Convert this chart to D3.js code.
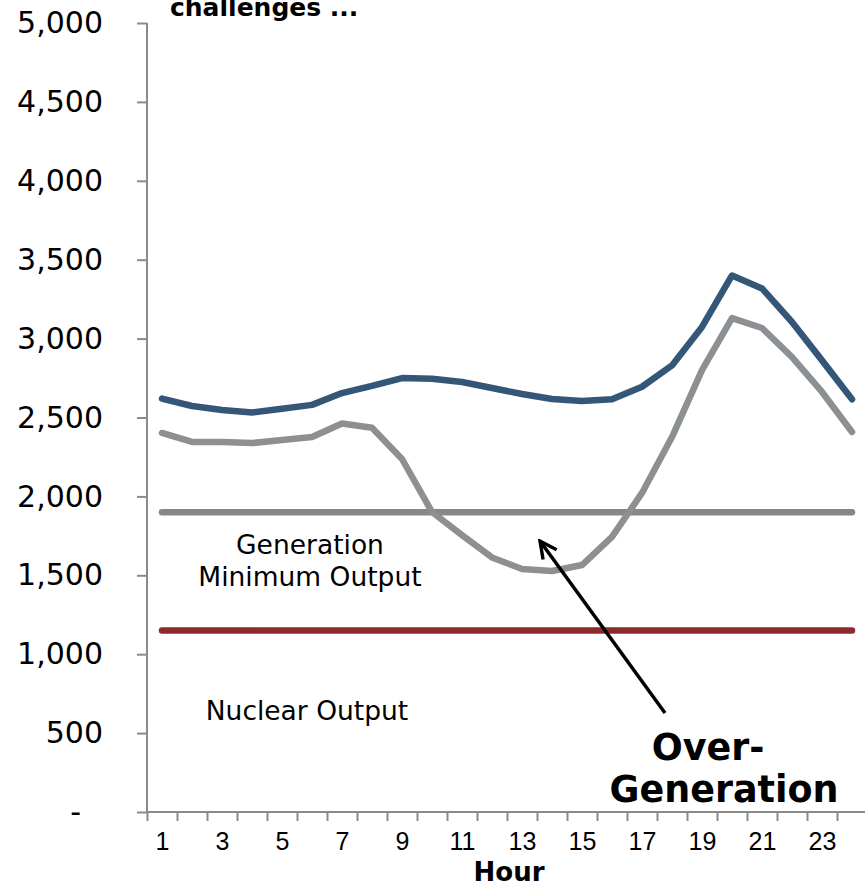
<!DOCTYPE html>
<html lang="en">
<head>
<meta charset="utf-8">
<title>Over-generation</title>
<script src="https://d3js.org/d3.v7.min.js"></script>
<style type="text/css">
body { margin: 0; background: #fff; }
.ytick text { font: 30px "DejaVu Sans", Verdana, sans-serif; fill: #000; }
.note { font: 26.5px "DejaVu Sans", Verdana, sans-serif; fill: #000; }
.big { font: bold 36.5px "DejaVu Sans", Verdana, sans-serif; fill: #000; }
</style>
</head>
<body>
<script type="text/javascript">

// chart size
const width = 865;
const height = 888;

// hours and series
const hours = d3.range(1, 25);
const loadTotal = [2620, 2573, 2548, 2532, 2555, 2580, 2655, 2700, 2750, 2745,
                   2725, 2687, 2649, 2617, 2605, 2615, 2695, 2830, 3074, 3400,
                   3318, 3105, 2862, 2615];
const netLoad = [2402, 2345, 2345, 2338, 2357, 2376, 2462, 2435, 2237, 1901,
                 1755, 1613, 1540, 1527, 1565, 1743, 2022, 2376, 2800, 3130,
                 3067, 2883, 2662, 2408];
const genMinimum = 1900;
const nuclear = 1150;
const yTicks = d3.range(0, 5001, 500);
const xLabels = [1, 3, 5, 7, 9, 11, 13, 15, 17, 19, 21, 23];

var x = d3.scaleLinear().domain([0.5, 24.5]).range([147, 867]);
var y = d3.scaleLinear().domain([0, 5000]).range([812, 23]);

var svg = d3.select("body").append("svg")
    .attr("width", width)
    .attr("height", height);

// title, cut off at the top like the source
svg.append("text")
    .attr("x", 170).attr("y", 16)
    .style("font", "bold 25px 'DejaVu Sans', Verdana, sans-serif")
    .text("challenges ...");

// y axis
var yAxis = svg.append("g")
    .attr("class", "ytick")
    .attr("transform", "translate(147,0)")
    .call(d3.axisLeft(y).tickValues(yTicks).tickSize(10).tickPadding(34)
          .tickFormat(function(d){ return d === 0 ? "-" : d3.format(",")(d); }));
yAxis.selectAll("line, path").attr("stroke", "#8a8a8a").attr("stroke-width", 2);
yAxis.select(".domain").attr("d", "M0," + y(5000) + "V" + y(0));
yAxis.selectAll(".tick text").filter(function(d){ return d === 0; }).attr("dx", -22);

// x axis: ticks at hour boundaries, labels on odd hours
var xAxis = svg.append("g")
    .attr("transform", "translate(0,812)")
    .call(d3.axisBottom(x).tickValues(d3.range(0.5, 24, 1)).tickSize(9).tickFormat(""));
xAxis.selectAll("line, path").attr("stroke", "#8a8a8a").attr("stroke-width", 2);
xAxis.select(".domain").attr("d", "M" + x(0.5) + ",0H" + width);

var xLab = svg.append("g")
    .attr("transform", "translate(0,812)")
    .call(d3.axisBottom(x).tickValues(xLabels).tickSize(0).tickPadding(20));
xLab.select(".domain").remove();
xLab.selectAll("text")
    .style("font-family", "'Liberation Sans', Arial, sans-serif")
    .style("font-size", "25px")
    .style("fill", "#000");

svg.append("text")
    .attr("x", 509).attr("y", 881)
    .attr("text-anchor", "middle")
    .style("font", "bold 26px 'DejaVu Sans', Verdana, sans-serif")
    .text("Hour");

var line = d3.line()
    .x(function(d, i){ return x(hours[i]); })
    .y(function(d){ return y(d); });

function drawSeries(values, color) {
  svg.append("path")
      .datum(values)
      .attr("d", line)
      .attr("fill", "none")
      .attr("stroke", color)
      .attr("stroke-width", 6.5)
      .attr("stroke-linejoin", "round")
      .attr("stroke-linecap", "round");
}

drawSeries(hours.map(function(){ return nuclear; }), "#8c2b2d");
drawSeries(hours.map(function(){ return genMinimum; }), "#878787");
drawSeries(netLoad, "#8d9093");
drawSeries(loadTotal, "#345677");

// labels
svg.append("text").attr("class", "note").attr("x", 310).attr("y", 554)
    .attr("text-anchor", "middle").text("Generation");
svg.append("text").attr("class", "note").attr("x", 310).attr("y", 586)
    .attr("text-anchor", "middle").text("Minimum Output");
svg.append("text").attr("class", "note").attr("x", 307).attr("y", 720)
    .attr("text-anchor", "middle").text("Nuclear Output");

svg.append("text").attr("class", "big").attr("x", 708).attr("y", 760)
    .attr("text-anchor", "middle").text("Over-");
svg.append("text").attr("class", "big").attr("x", 724).attr("y", 802)
    .attr("text-anchor", "middle").text("Generation");

// arrow pointing at the dip
svg.append("defs").append("marker")
    .attr("id", "head")
    .attr("viewBox", "0 0 10 10")
    .attr("refX", 9).attr("refY", 5)
    .attr("markerWidth", 6).attr("markerHeight", 6)
    .attr("orient", "auto")
  .append("path")
    .attr("d", "M1,1L9,5L1,9")
    .attr("fill", "none")
    .attr("stroke", "#000")
    .attr("stroke-width", 1.6);

svg.append("line")
    .attr("x1", 665).attr("y1", 713)
    .attr("x2", 540).attr("y2", 541)
    .attr("stroke", "#000")
    .attr("stroke-width", 3.5)
    .attr("marker-end", "url(#head)");

</script>
</body>
</html>
